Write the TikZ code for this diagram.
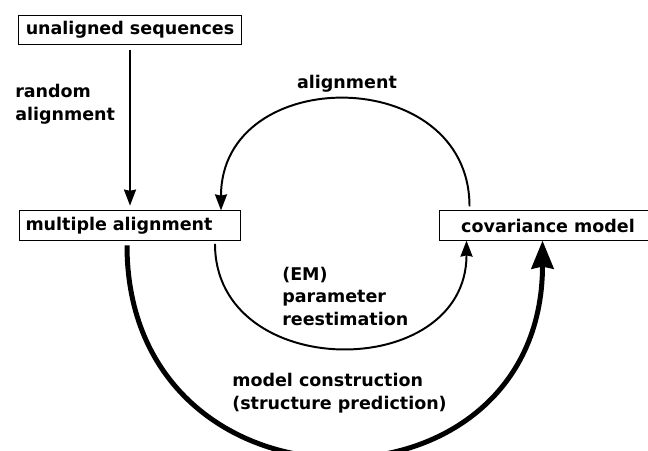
\documentclass[tikz,border=0pt]{standalone}
\usepackage{fontspec}
\setmainfont{DejaVu Sans}
\usetikzlibrary{arrows.meta}

\begin{document}
\begin{tikzpicture}[font=\bfseries\fontsize{12.45}{16}\selectfont]

        \useasboundingbox (0,0) rectangle (16.2,11.25);

        \begin{scope}[every node/.style={draw,line width=0.7pt,minimum height=0.73cm,inner xsep=0.15cm,inner ysep=0.1cm}]
          \node[minimum width=5.575cm]       (us) at (3.25,10.5)    {unaligned sequences};
          \node[text width=5.225cm,align=left] (ma) at (3.25,5.6125)  {multiple alignment};
          \node[minimum width=5.45cm]        (cm) at (13.7,5.6125)  {covariance model};
        \end{scope}

        \begin{scope}[every node/.style={align=left,anchor=west,inner sep=0pt}]
          \node (ra) at (0.375,8.65) {random\\alignment};
          \node[anchor=center] (al) at (8.675,9.15) {alignment};
          \node (em) at (7.05,3.85) {(EM)\\parameter\\reestimation};
          \node (mc) at (5.8,1.425) {model construction\\(structure prediction)};
        \end{scope}

        \begin{scope}[every edge/.style={draw,line width=1.4pt,-{Stealth[length=0.4cm,width=0.3cm,inset=0.03cm]}}]
          \path (us) edge[shorten <=0.12cm,shorten >=0.12cm] (ma);
          \path ([xshift=0.775cm]cm.north west) edge[out=90,in=90,looseness=1.52,shorten <=0.1cm] ([xshift=-0.5cm]ma.north east);
          \path ([xshift=-0.65cm]ma.south east) edge[out=-90,in=-90,looseness=1.45,shorten <=0.08cm] ([xshift=0.7cm]cm.south west);
          % thick lower loop
          \path ([xshift=2.7cm]ma.south west) edge[out=-90,in=-90,looseness=1.76,line width=3.55pt,shorten <=0.12cm,
                -{Stealth[length=0.7cm,width=0.55cm,inset=0.05cm]}] ([xshift=2.6cm]cm.south west);
        \end{scope}

      \end{tikzpicture}
\end{document}
